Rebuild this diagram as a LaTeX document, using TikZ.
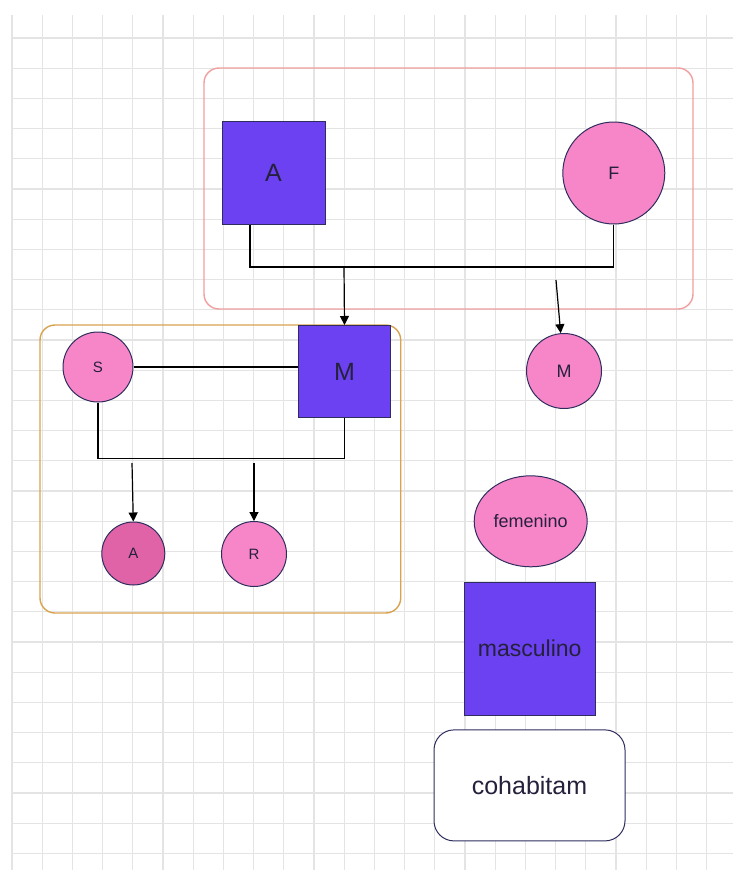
\documentclass[tikz,border=0pt]{standalone}
\usepackage{fontspec}
\setmainfont{Liberation Sans}
\usetikzlibrary{arrows.meta,positioning,shapes.geometric}
\definecolor{masc}{HTML}{6B41F1}
\definecolor{fem}{HTML}{F786C8}
\definecolor{femdark}{HTML}{E063A7}
\definecolor{edgeblue}{HTML}{2E2D5E}
\definecolor{txt}{HTML}{25203C}
\definecolor{boxred}{HTML}{F09E9E}
\definecolor{boxorange}{HTML}{D9A24F}
\definecolor{gridline}{HTML}{E4E4E4}
\tikzset{male/.style={rectangle, draw=edgeblue, fill=masc, line width=1pt, inner sep=0pt, text=txt,
  minimum width=#1, minimum height=#1},
female/.style={circle, draw=edgeblue, fill=fem, line width=1pt, inner sep=0pt, text=txt, minimum size=#1},
link/.style={draw=black, line width=1.2pt},
arr/.style={link, -{Triangle[length=9pt,width=9pt]}},
family/.style={rounded corners=15pt, line width=1.4pt},
bigtext/.style={font=\fontsize{25}{30}\selectfont},
midtext/.style={font=\fontsize{18}{22}\selectfont},
smalltext/.style={font=\fontsize{15}{18}\selectfont}}

\begin{document}
\begin{tikzpicture}[x=1pt, y=-1pt]
\useasboundingbox (0,0) rectangle (733,870);

% grid
\foreach \i in {0,...,23} \draw[gridline, line width=1.3pt] ({12+30.2*\i},15) -- ({12+30.2*\i},870);
\foreach \j in {0,...,27} \draw[gridline, line width=1.3pt] (12,{38+30.2*\j}) -- (733,{38+30.2*\j});

% families
\draw[family, boxred] (204,68) rectangle (693,309);
\draw[family, boxorange] (40,325) rectangle (400.7,613);

\node[male=103pt, bigtext] (pA) at (273.5,173) {A};
\node[female=102pt, midtext] (pF) at (613.8,173) {F};
\node[male=92pt, bigtext] (pM) at (344.5,371.5) {M};
\node[female=75pt, midtext] (pMf) at (564,371) {M};
\node[female=70pt, smalltext] (pS) at (98,367) {S};
\node[female=63pt, smalltext, fill=femdark] (pAf) at (133.3,553.5) {A};
\node[female=65pt, smalltext] (pR) at (254,554) {R};

\draw[link] ([xshift=-23.5pt]pA.south) -- ++(0,42) -| (pF.south);
\coordinate (jAF) at (344,266.5);
\draw[arr] (jAF) -- (pM.north);
\coordinate (jMf) at (556,280);
\draw[arr] (jMf) -- (pMf.95);

\draw[link] (pS.east) -- (pS.east -| pM.west);
\draw[link] (pS.south) -- ++(0,56) -| (pM.south);
\coordinate (jAf) at (132,463);
\draw[arr] (jAf) -- (pAf.north);
\coordinate (jR) at (254,463);
\draw[arr] (jR) -- (pR.north);

% legend
\node[ellipse, draw=edgeblue, fill=fem, line width=1pt, inner sep=0pt, text=txt, midtext,
  minimum width=113pt, minimum height=91pt] (legFem) at (530.7,521.3) {femenino};
\node[male=131pt, minimum height=133pt, font=\fontsize{23}{27}\selectfont] (legMasc) at (529.7,648.7) {masculino};
\node[rectangle, rounded corners=20pt, draw=edgeblue, fill=white, line width=1pt, text=txt, bigtext,
  minimum width=191pt, minimum height=111pt] (legCohab) at (529.5,785.4) {cohabitam};

\end{tikzpicture}
\end{document}
